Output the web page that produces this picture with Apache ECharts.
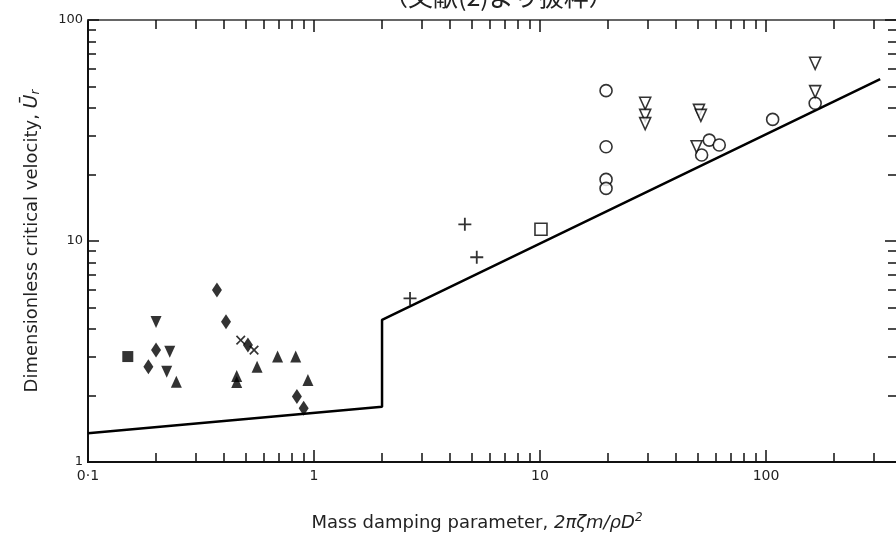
<!DOCTYPE html>
<html>
<head>
<meta charset="utf-8">
<script src="https://cdn.jsdelivr.net/npm/echarts@6/dist/echarts.min.js"></script>
<style>
  html, body { margin: 0; padding: 0; background: #fff; }
  #chart { width: 896px; height: 537px; }
</style>
</head>
<body>
<div id="chart"></div>
<script>
// 軸の目盛
var majorTicks = [0.1, 1, 10, 100];
var xMinorTicks = [0.2, 0.3, 0.4, 0.5, 0.6, 0.7, 0.8, 0.9, 2, 3, 4, 5, 6, 7, 8, 9, 20, 30, 40, 50, 60, 70, 80, 90, 200, 300];
var yMinorTicks = [2, 3, 4, 5, 6, 7, 8, 9, 20, 30, 40, 50, 60, 70, 80, 90];
var xMax = 376; // 図の右端（右軸は切れている）

// 臨界流速の線
var criterionLine = [[0.1, 1.35], [2, 1.78], [2, 4.4], [320, 54]];

// 実験データ（塗りつぶし）
var filledSquare = [[0.15, 3.0]];
var filledDownTri = [[0.2, 4.3], [0.23, 3.15], [0.223, 2.56]];
var filledDiamond = [[0.185, 2.7], [0.2, 3.21], [0.372, 6.0], [0.408, 4.31], [0.51, 3.38], [0.84, 1.98], [0.9, 1.75]];
var filledTri = [[0.246, 2.31], [0.455, 2.45], [0.455, 2.3], [0.56, 2.7], [0.69, 3.0], [0.83, 3.0], [0.94, 2.35]];
var crossPts = [[0.474, 3.56], [0.543, 3.21]];

// 実験データ（白抜き）
var plusPts = [[2.66, 5.5], [4.65, 11.9], [5.25, 8.44]];
var openSquare = [[10.1, 11.3]];
var openCircle = [[19.6, 47.9], [19.6, 26.7], [19.6, 19.0], [19.6, 17.3], [51.9, 24.5], [56.1, 28.6], [62.1, 27.2], [107, 35.5], [165, 42]];
var openDownTri = [[29.2, 42], [29.2, 37], [29.2, 34], [50.5, 39], [51.5, 37], [49.3, 26.7], [165, 63.7], [165, 47.4]];

var plusPath = 'path://M4.3,0H5.7V4.3H10V5.7H5.7V10H4.3V5.7H0V4.3H4.3Z';
var font = 'DejaVu Sans';

function fmtLabel(v) {
	if (Math.abs(v - 0.1) < 1e-6) return '0·1';
	return String(Math.round(v));
}

function scatter(data, symbol, size, filled, rotate) {
	return {
		type: 'scatter',
		data: data,
		symbol: symbol,
		symbolSize: size,
		symbolRotate: rotate || 0,
		itemStyle: filled ? {color: '#000'} : {color: '#fff', borderColor: '#000', borderWidth: 1.6},
		emphasis: {disabled: true},
		z: 3
	};
}

function xAxis(pos, ticks, len, showLabel, lineColor) {
	return {
		type: 'log', logBase: 10, min: 0.1, max: xMax, position: pos,
		axisLine: {lineStyle: {color: lineColor, width: 2}},
		axisTick: {inside: true, length: len, customValues: ticks, lineStyle: {color: '#111', width: 1.5}},
		axisLabel: {show: showLabel, customValues: majorTicks, formatter: fmtLabel, color: '#222', fontFamily: font, fontSize: 14, margin: 7},
		splitLine: {show: false}, minorTick: {show: false}
	};
}

function yAxis(pos, ticks, len, showLabel, showLine) {
	return {
		type: 'log', logBase: 10, min: 1, max: 100, position: pos,
		axisLine: {show: showLine, lineStyle: {color: '#111', width: 2}},
		axisTick: {show: true, inside: true, length: len, customValues: ticks, lineStyle: {color: '#111', width: 1.5}},
		axisLabel: {show: showLabel, customValues: [1, 10, 100], formatter: fmtLabel, color: '#222', fontFamily: font, fontSize: 13, margin: 5},
		splitLine: {show: false}, minorTick: {show: false}
	};
}

var chart = echarts.init(document.getElementById('chart'), null, {renderer: 'canvas'});

var yMain = yAxis('left', majorTicks.slice(1), 11, true, true);
yMain.name = 'Dimensionless critical velocity, {u|Ū}{r|r}';
yMain.nameLocation = 'middle';
yMain.nameGap = 46;
yMain.nameTextStyle = {
	color: '#222', fontFamily: font, fontSize: 18,
	rich: {
		u: {fontFamily: font, fontSize: 19, fontStyle: 'italic', color: '#222'},
		r: {fontFamily: font, fontSize: 12, fontStyle: 'italic', color: '#222', verticalAlign: 'bottom', padding: [7, 0, 0, 0]}
	}
};

var option = {
	backgroundColor: '#fff',
	animation: false,
	title: [{
		text: '（文献(2)より抜粋）',
		left: 378, top: -21,
		textStyle: {fontFamily: 'Noto Sans CJK JP', fontSize: 25, fontWeight: 'normal', color: '#222'}
	}, {
		text: 'Mass damping parameter, {i|2πζm/ρD}{s|2}',
		left: 472, top: 507, textAlign: 'center',
		textStyle: {
			fontFamily: font, fontSize: 18, fontWeight: 'normal', color: '#222',
			rich: {
				i: {fontFamily: font, fontSize: 18, fontStyle: 'italic', color: '#222'},
				s: {fontFamily: font, fontSize: 12, fontStyle: 'italic', color: '#222', verticalAlign: 'top', padding: [0, 0, 10, 0]}
			}
		}
	}],
	grid: {left: 88, top: 20, right: 0, bottom: 75, containLabel: false},
	xAxis: [
		xAxis('bottom', majorTicks, 12, true, '#111'),
		xAxis('bottom', xMinorTicks, 9, false, '#111'),
		xAxis('top', majorTicks, 12, false, '#666'),
		xAxis('top', xMinorTicks, 9, false, '#666')
	],
	yAxis: [
		yMain,
		yAxis('left', yMinorTicks, 8, false, true),
		yAxis('right', majorTicks.slice(1), 11, false, false),
		yAxis('right', yMinorTicks, 8, false, false)
	],
	series: [
		{
			type: 'line', data: criterionLine, symbol: 'none',
			lineStyle: {color: '#000', width: 2.5}, z: 2, silent: true
		},
		scatter(filledSquare, 'rect', 11, true),
		scatter(filledDownTri, 'triangle', [11, 12], true, 180),
		scatter(filledDiamond, 'diamond', [10, 15], true),
		scatter(filledTri, 'triangle', [11, 12], true),
		scatter(crossPts, plusPath, 12, true, 45),
		scatter(plusPts, plusPath, 13, true),
		scatter(openSquare, 'rect', 12, false),
		scatter(openCircle, 'circle', 12, false),
		scatter(openDownTri, 'triangle', [11, 12], false, 180)
	]
};

chart.setOption(option);
</script>
</body>
</html>
